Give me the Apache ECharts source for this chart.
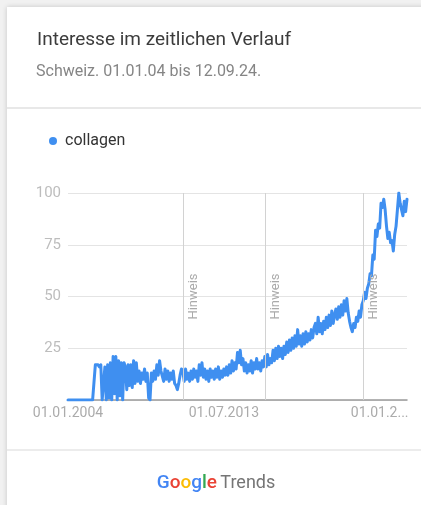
<!DOCTYPE html>
<html><head><meta charset="utf-8">
<script src="https://cdn.jsdelivr.net/npm/echarts@6/dist/echarts.min.js"></script>
<style>html,body{margin:0;padding:0;background:#f1f1f1}#c{width:421px;height:505px}</style>
</head><body><div id="c"></div>
<script>
// monthly categories Jan 2004 .. Sep 2024
const months = [];
for (let y = 2004; y <= 2024; y++) {
  for (let m = 1; m <= 12; m++) {
    if (y === 2024 && m > 9) break;
    months.push(y + '-' + String(m).padStart(2, '0'));
  }
}
const seriesName = 'collagen';
const values = [
  0,0,0,0,0,0,0,0,0,0,0,0,0,0,0,0,0,0,0,0,
  17,17,17,16,17,
  0,0,
  16,0,17,1,18,0,21,3,21,0,19,2,18,0,18,
  16,5,17,7,17,6,19,8,18,9,
  14,8,13,10,15,9,13,
  1,0,
  13,9,14,10,17,12,19,14,
  14,9,15,10,14,9,13,10,14,8,7,5,8,12,15,
  14,9,15,10,13,9,14,10,15,11,14,9,17,12,18,11,
  15,10,14,9,15,11,14,10,15,11,16,10,14,11,15,12,16,12,17,13,
  19,14,18,15,23,18,24,17,20,14,18,13,17,14,19,13,18,15,20,15,18,14,19,16,
  21,16,22,17,20,18,24,19,25,20,26,21,25,20,26,22,
  28,23,29,24,30,25,31,26,34,27,31,26,32,27,33,28,32,29,34,30,35,
  37,32,40,33,37,32,38,34,40,35,41,36,43,37,41,
  44,39,45,40,46,41,48,43,49,42,38,35,33,37,35,40,38,43,40,46,48,
  52,49,54,56,61,60,70,68,82,79,85,83,95,93,97,92,84,78,81,76,77,72,80,84,92,100,95,92,89,96,91,97
];
const tickMonths = ['2004-01', '2013-07', '2023-01'];
const tickLabels = ['01.01.2004', '01.07.2013', '01.01.2...'];
const noteMonths = ['2011-01', '2016-01', '2022-01'];
const noteText = 'Hinweis';
const yMin = 0, yMax = 100, yStep = 25;
const titleText = 'Interesse im zeitlichen Verlauf';
const subtitleText = 'Schweiz. 01.01.04 bis 12.09.24.';

const tickIdx = tickMonths.map(m => months.indexOf(m));
const FONT = 'Roboto';

const chart = echarts.init(document.getElementById('c'), null, {renderer: 'canvas'});
chart.setOption({
  backgroundColor: '#f1f1f1',
  animation: false,
  textStyle: {fontFamily: FONT},
  graphic: [
    {type: 'rect', z: -1, shape: {x: 7, y: 7, width: 440, height: 520},
     style: {fill: '#ffffff', shadowBlur: 5, shadowColor: 'rgba(0,0,0,0.18)'}},
    {type: 'rect', z: 0, shape: {x: 7, y: 107, width: 414, height: 2}, style: {fill: '#e8e8e8'}},
    {type: 'rect', z: 0, shape: {x: 7, y: 449, width: 414, height: 2}, style: {fill: '#ececec'}},
    {type: 'text', z: 1, x: 37, y: 40,
     style: {text: titleText, font: '19px Roboto', fill: '#3c3c3c', textVerticalAlign: 'middle'}},
    {type: 'text', z: 1, x: 36, y: 72,
     style: {text: subtitleText, font: '16px Roboto', fill: '#858585', textVerticalAlign: 'middle'}},
    {type: 'text', z: 1, x: 216, y: 483,
     style: {
       text: '{b|G}{r|o}{y|o}{b|g}{g|l}{r|e} {t|Trends}',
       textAlign: 'center', textVerticalAlign: 'middle',
       rich: {
         b: {fill: '#4285f4', font: '500 19px Roboto'},
         r: {fill: '#ea4335', font: '500 19px Roboto'},
         y: {fill: '#fbbc05', font: '500 19px Roboto'},
         g: {fill: '#34a853', font: '500 19px Roboto'},
         t: {fill: '#757575', font: '18px Roboto'}
       }
     }}
  ],
  legend: {
    data: [seriesName],
    left: 44, top: 128,
    icon: 'circle', itemWidth: 8, itemHeight: 8,
    textStyle: {fontSize: 16, color: '#333', fontFamily: FONT, padding: [0, 0, 0, 3]}
  },
  grid: {left: 68, right: 14, top: 193, bottom: 105, containLabel: false},
  xAxis: {
    type: 'category', data: months, boundaryGap: false,
    axisLine: {lineStyle: {color: '#9a9a9a', width: 1.5}},
    axisTick: {show: false},
    splitLine: {show: false},
    axisLabel: {
      interval: (idx) => tickIdx.includes(idx),
      formatter: (v) => tickLabels[tickMonths.indexOf(v)],
      color: '#ababab', fontSize: 14, margin: 6, fontFamily: FONT
    }
  },
  yAxis: {
    type: 'value', min: yMin, max: yMax, interval: yStep,
    axisLine: {show: false}, axisTick: {show: false},
    splitLine: {lineStyle: {color: '#e4e4e4', width: 1}},
    axisLabel: {showMinLabel: false, color: '#bdbdbd', fontSize: 15, margin: 7, fontFamily: FONT}
  },
  series: [
    {
      name: 'notes', type: 'line', data: [], z: 1, silent: true,
      markLine: {
        silent: true, symbol: ['none', 'none'], animation: false,
        lineStyle: {color: '#d2d2d2', type: 'solid', width: 1},
        label: {show: true, formatter: noteText, position: 'insideMiddleBottom',
                color: '#aaaaaa', fontSize: 13, fontFamily: FONT, distance: 4},
        emphasis: {disabled: true},
        data: noteMonths.map(m => ({xAxis: m}))
      }
    },
    {
      name: seriesName, type: 'line', data: values, z: 3,
      showSymbol: false, symbol: 'circle',
      itemStyle: {color: '#3f8ff0'},
      lineStyle: {color: '#3f8ff0', width: 3, join: 'round', cap: 'round'},
      silent: true
    }
  ]
});
</script></body></html>
